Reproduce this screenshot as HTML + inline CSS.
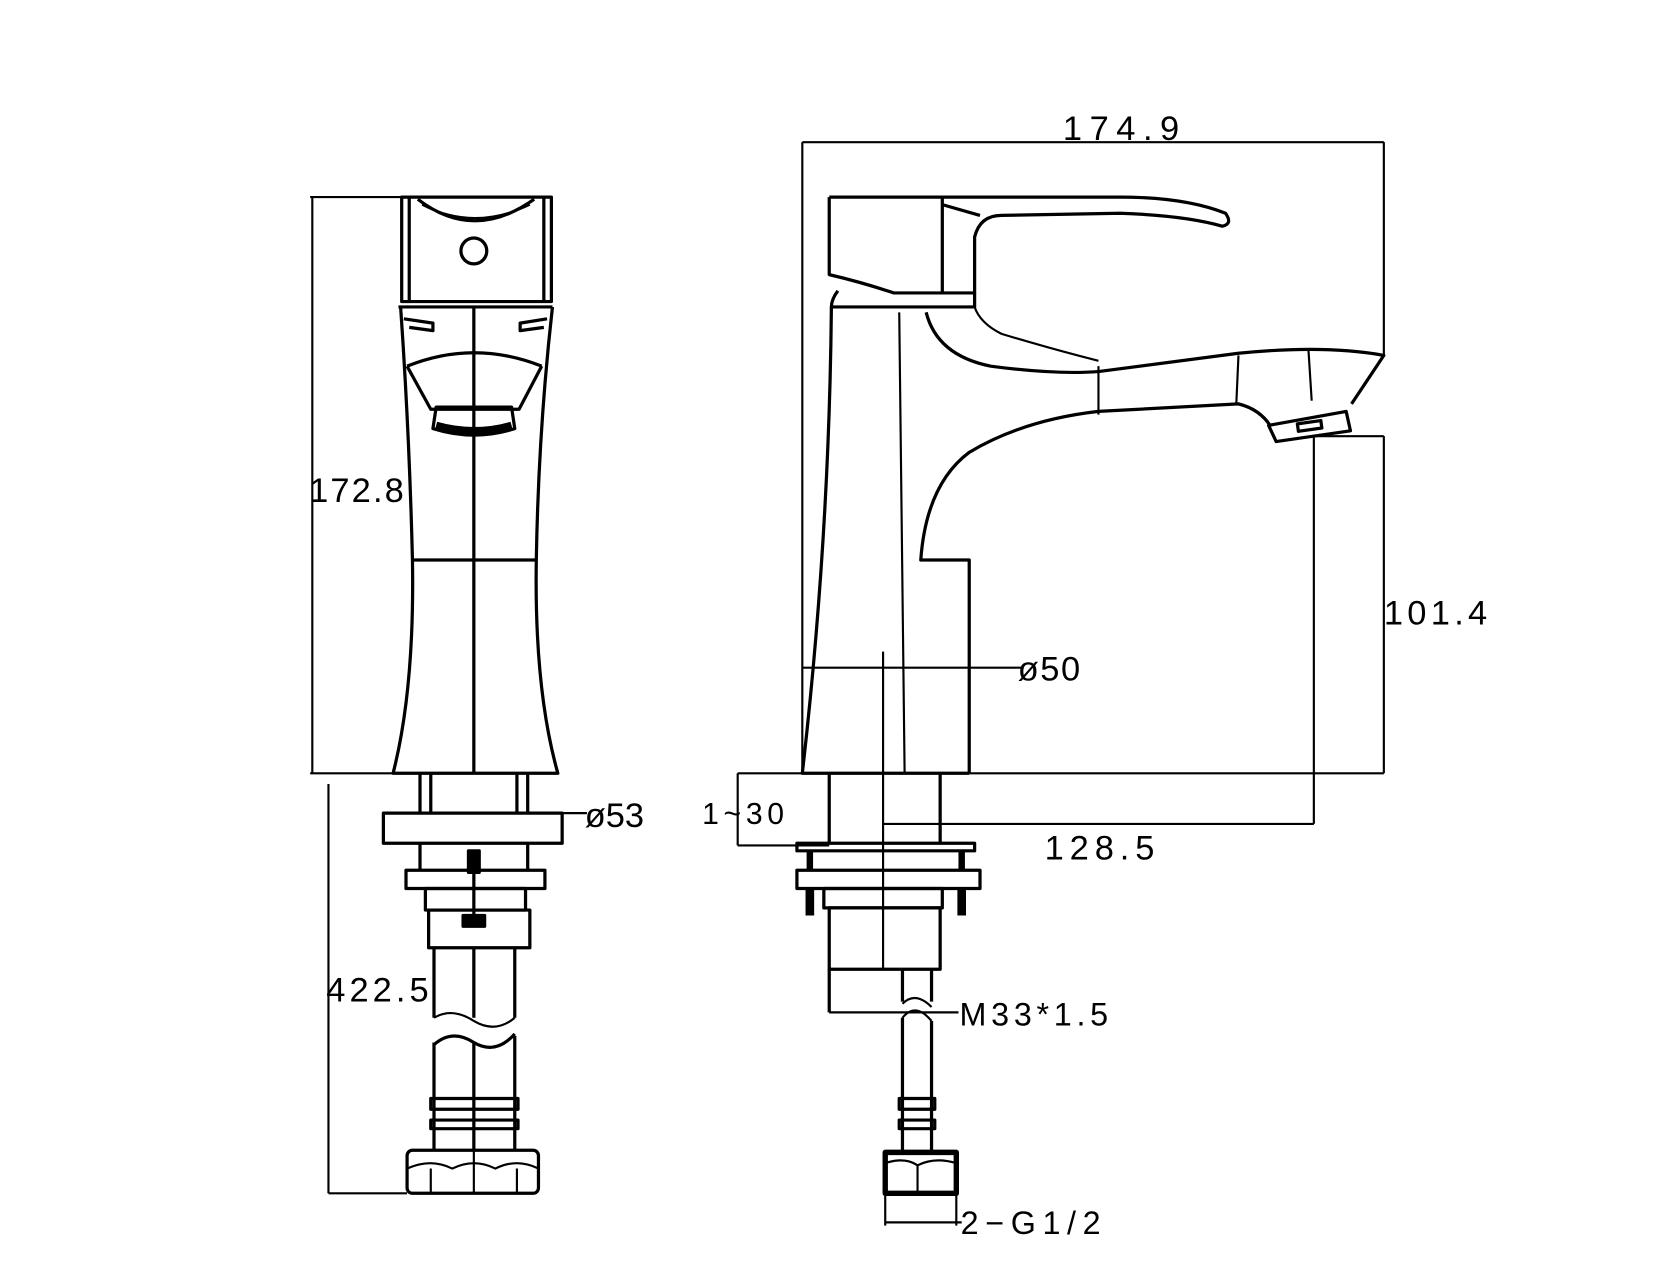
<!DOCTYPE html>
<html><head><meta charset="utf-8"><style>html,body{margin:0;padding:0;background:#fff}svg{display:block}</style></head>
<body>
<svg width="1680" height="1287" viewBox="0 0 1560 1195" preserveAspectRatio="none" xmlns="http://www.w3.org/2000/svg">
<g fill="none" stroke="#000" stroke-width="3" stroke-linejoin="round">
<!-- LEFT VIEW -->
<line x1="290" y1="183" x2="290" y2="718" stroke-width="2"/>
<line x1="288" y1="183" x2="375" y2="183" stroke-width="2"/>
<line x1="288" y1="718" x2="365" y2="718" stroke-width="2"/>
<rect x="373" y="183" width="139" height="97"/>
<line x1="380" y1="183" x2="380" y2="280"/>
<line x1="505" y1="183" x2="505" y2="280"/>
<path d="M388 185 Q440 225 496 185"/>
<path d="M392 190 Q440 215 492 190" stroke-width="2"/>
<circle cx="440" cy="233" r="12"/>
<path d="M370 285 L513 285 M372 285 Q380 400 383 520 Q385 640 365 718 L518 718 Q496 640 498 520 Q500 400 513 285"/>
<line x1="440" y1="285" x2="440" y2="718"/>
<line x1="383" y1="520" x2="498" y2="520"/>
<path d="M375 296 L402 300 L402 307 L380 304 M508 296 L483 300 L483 307 L505 304"/>
<path d="M378 340 Q440 315 503 340 M378 340 L400 380 L482 380 L503 340"/>
<path d="M405 378 L475 378 L478 398 Q440 410 402 398 Z"/>
<path d="M405 395 Q440 405 475 395" stroke-width="7"/>
<!-- left lower -->
<path d="M390 718 L390 755 M400 718 L400 755 M480 718 L480 755 M490 718 L490 755"/>
<rect x="356" y="755" width="166" height="28"/>
<line x1="522" y1="755" x2="545" y2="755" stroke-width="2"/>
<rect x="377" y="808" width="129" height="17"/>
<rect x="395" y="825" width="93" height="20"/>
<path d="M390 783 L390 808 M490 783 L490 808"/>
<rect x="398" y="845" width="94" height="35"/>
<rect x="435" y="790" width="10" height="20" fill="#000"/>
<line x1="440" y1="810" x2="440" y2="850"/>
<rect x="430" y="850" width="20" height="10" fill="#000"/>
<path d="M403 880 L403 945 M440 880 L440 945 M478 880 L478 945"/>
<path d="M403 945 Q420 935 440 948 Q460 960 478 945" stroke-width="2"/>
<path d="M403 970 Q420 955 440 968 Q460 980 478 960"/>
<path d="M403 968 L403 1068 M440 968 L440 1068 M478 962 L478 1068"/>
<rect x="400" y="1020" width="81" height="10"/>
<rect x="400" y="1040" width="81" height="8"/>
<rect x="378" y="1068" width="122" height="40" rx="5"/>
<path d="M378 1085 Q400 1075 420 1085 Q440 1075 460 1085 Q480 1075 500 1085 M400 1085 L400 1108 M440 1068 L440 1108 M480 1085 L480 1108" stroke-width="2"/>
<line x1="305" y1="728" x2="305" y2="1108" stroke-width="2"/>
<line x1="305" y1="1108" x2="378" y2="1108" stroke-width="2"/>
<!-- RIGHT VIEW -->
<line x1="745" y1="132" x2="1285" y2="132" stroke-width="2"/>
<line x1="745" y1="132" x2="745" y2="718" stroke-width="2"/>
<line x1="1285" y1="132" x2="1285" y2="330" stroke-width="2"/>
<path d="M770 183 L770 255 Q800 262 830 272 L905 272 L905 220 Q910 200 930 200 L1040 198 Q1100 200 1135 210 Q1145 208 1138 198 Q1100 183 1040 183 L770 183"/>
<line x1="875" y1="183" x2="875" y2="272"/>
<path d="M875 190 L910 200"/>
<path d="M778 270 Q772 278 772 285 L905 285 L905 272"/>
<path d="M772 285 Q770 500 745 718 L900 718"/>
<path d="M835 290 L840 718" stroke-width="2"/>
<path d="M900 718 L900 520 L855 520 Q860 450 900 420 Q950 390 1020 382 L1150 375 Q1170 380 1180 396"/>
<path d="M860 290 Q870 330 920 340 Q980 348 1020 345 L1150 328 Q1230 320 1285 330 L1255 375"/>
<path d="M905 285 Q910 300 930 310 Q980 325 1020 335" stroke-width="2"/>
<path d="M1020 340 L1020 385 M1150 330 L1148 375 M1215 325 L1218 372" stroke-width="2"/>
<path d="M1178 395 L1250 382 L1254 400 L1185 410 Z"/>
<rect x="1205" y="392" width="22" height="7" transform="rotate(-8 1216 395)"/>
<line x1="1220" y1="405" x2="1220" y2="765" stroke-width="2"/>
<line x1="1220" y1="405" x2="1285" y2="405" stroke-width="2"/>
<line x1="1285" y1="405" x2="1285" y2="718" stroke-width="2"/>
<line x1="900" y1="718" x2="1285" y2="718" stroke-width="2"/>
<line x1="745" y1="620" x2="950" y2="620" stroke-width="2"/>
<line x1="820" y1="605" x2="820" y2="900" stroke-width="2"/>
<line x1="820" y1="765" x2="1220" y2="765" stroke-width="2"/>
<path d="M770 718 L770 783 M873 718 L873 783"/>
<line x1="685" y1="718" x2="685" y2="785" stroke-width="2"/>
<line x1="685" y1="718" x2="745" y2="718" stroke-width="2"/>
<line x1="685" y1="785" x2="770" y2="785" stroke-width="2"/>
<rect x="740" y="783" width="165" height="7"/>
<rect x="740" y="808" width="170" height="17"/>
<rect x="765" y="825" width="110" height="18"/>
<path d="M752 790 L752 808 M893 790 L893 808" stroke-width="6"/>
<path d="M752 825 L752 850 M893 825 L893 850" stroke-width="8"/>
<rect x="770" y="843" width="103" height="57"/>
<path d="M770 900 L770 940 M838 900 L838 930 M865 900 L865 930"/>
<line x1="770" y1="940" x2="890" y2="940" stroke-width="2"/>
<path d="M838 932 Q850 920 865 935 M838 945 Q850 930 865 948" stroke-width="2"/>
<path d="M838 945 L838 1070 M865 948 L865 1070"/>
<rect x="835" y="1020" width="33" height="10"/>
<rect x="835" y="1040" width="33" height="8"/>
<rect x="822" y="1070" width="66" height="38" stroke-width="5"/>
<path d="M822 1080 Q840 1074 852 1082 Q868 1074 888 1080 M852 1082 L852 1108" stroke-width="2"/>
<path d="M822 1108 L822 1138 M888 1108 L888 1138 M822 1135 L893 1135" stroke-width="2"/>
</g>
<g font-family="Liberation Sans, sans-serif" font-size="32" fill="#000">
<text x="287" y="466" textLength="88">172.8</text>
<text x="987" y="130" textLength="108">174.9</text>
<text x="1285" y="580" textLength="96">101.4</text>
<text x="945" y="632" textLength="58">ø50</text>
<text x="543" y="768" textLength="55">ø53</text>
<text x="652" y="765" font-size="28" textLength="76">1~30</text>
<text x="970" y="798" textLength="102">128.5</text>
<text x="303" y="930" textLength="95">422.5</text>
<text x="891" y="952" font-size="30" textLength="138">M33*1.5</text>
<text x="892" y="1146" font-size="30" textLength="130">2−G1/2</text>
</g>
</svg>
</body></html>
